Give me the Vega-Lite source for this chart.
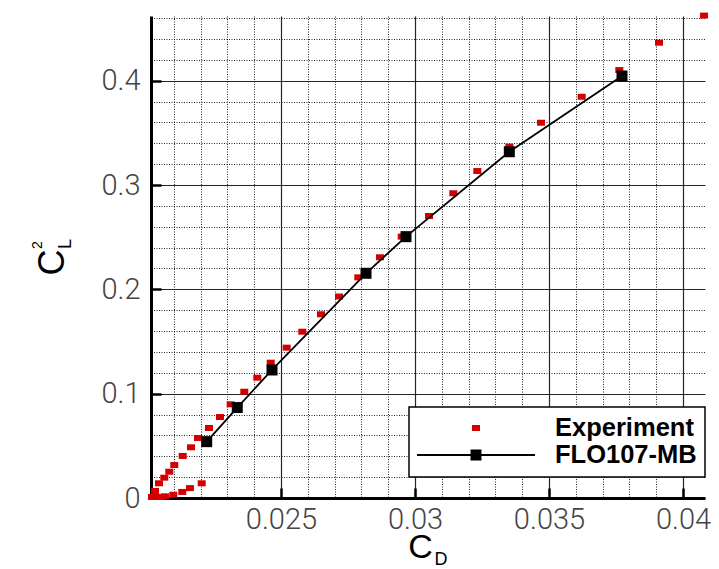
{
  "$schema": "https://vega.github.io/schema/vega-lite/v6.json",
  "width": 554,
  "height": 482,
  "autosize": {"type": "none"},
  "padding": {"left": 151, "top": 16, "right": 14, "bottom": 71},
  "background": "white",
  "config": {
    "view": {"stroke": null},
    "legend": {"strokeWidth": 1.5}
  },
  "datasets": {
    "points": [
      {"series": "Experiment", "cd": 0.020187, "cl2": 0.0010},
      {"series": "Experiment", "cd": 0.020299, "cl2": 0.0067},
      {"series": "Experiment", "cd": 0.020448, "cl2": 0.0141},
      {"series": "Experiment", "cd": 0.020646, "cl2": 0.0195},
      {"series": "Experiment", "cd": 0.020832, "cl2": 0.0252},
      {"series": "Experiment", "cd": 0.021019, "cl2": 0.0316},
      {"series": "Experiment", "cd": 0.021332, "cl2": 0.0403},
      {"series": "Experiment", "cd": 0.021642, "cl2": 0.0486},
      {"series": "Experiment", "cd": 0.021903, "cl2": 0.0575},
      {"series": "Experiment", "cd": 0.022313, "cl2": 0.0671},
      {"series": "Experiment", "cd": 0.022724, "cl2": 0.0776},
      {"series": "Experiment", "cd": 0.023123, "cl2": 0.0898},
      {"series": "Experiment", "cd": 0.023631, "cl2": 0.1019},
      {"series": "Experiment", "cd": 0.024116, "cl2": 0.1153},
      {"series": "Experiment", "cd": 0.024616, "cl2": 0.1297},
      {"series": "Experiment", "cd": 0.025213, "cl2": 0.1441},
      {"series": "Experiment", "cd": 0.025795, "cl2": 0.1594},
      {"series": "Experiment", "cd": 0.026493, "cl2": 0.1761},
      {"series": "Experiment", "cd": 0.027164, "cl2": 0.1931},
      {"series": "Experiment", "cd": 0.027884, "cl2": 0.2115},
      {"series": "Experiment", "cd": 0.028694, "cl2": 0.2307},
      {"series": "Experiment", "cd": 0.029504, "cl2": 0.2505},
      {"series": "Experiment", "cd": 0.030522, "cl2": 0.2703},
      {"series": "Experiment", "cd": 0.031429, "cl2": 0.2921},
      {"series": "Experiment", "cd": 0.032325, "cl2": 0.3134},
      {"series": "Experiment", "cd": 0.033519, "cl2": 0.3367},
      {"series": "Experiment", "cd": 0.034701, "cl2": 0.3597},
      {"series": "Experiment", "cd": 0.036220, "cl2": 0.3846},
      {"series": "Experiment", "cd": 0.037623, "cl2": 0.4102},
      {"series": "Experiment", "cd": 0.039104, "cl2": 0.4364},
      {"series": "Experiment", "cd": 0.040784, "cl2": 0.4624},
      {"series": "Experiment", "cd": 0.020485, "cl2": 0.0010},
      {"series": "Experiment", "cd": 0.020672, "cl2": 0.0016},
      {"series": "Experiment", "cd": 0.020981, "cl2": 0.0031},
      {"series": "Experiment", "cd": 0.021317, "cl2": 0.0058},
      {"series": "Experiment", "cd": 0.021604, "cl2": 0.0095},
      {"series": "Experiment", "cd": 0.022041, "cl2": 0.0141},
      {"series": "FLO107-MB", "cd": 0.022228, "cl2": 0.0540},
      {"series": "FLO107-MB", "cd": 0.023369, "cl2": 0.0867},
      {"series": "FLO107-MB", "cd": 0.024664, "cl2": 0.1227},
      {"series": "FLO107-MB", "cd": 0.028172, "cl2": 0.2154},
      {"series": "FLO107-MB", "cd": 0.029664, "cl2": 0.2505},
      {"series": "FLO107-MB", "cd": 0.033519, "cl2": 0.3319},
      {"series": "FLO107-MB", "cd": 0.037724, "cl2": 0.4045}
    ],
    "titleparts": [
      {"part": "D", "role": "xsub"},
      {"part": "2", "role": "ysup"},
      {"part": "L", "role": "ysub"}
    ]
  },
  "layer": [
    {
      "data": {"name": "points"},
      "encoding": {
        "x": {
          "field": "cd",
          "type": "quantitative",
          "scale": {"domain": [0.02015, 0.04082], "nice": false, "zero": false},
          "axis": {
            "title": "C", "titleFont": "Liberation Sans", "titleFontSize": 34, "titleFontWeight": "normal", "titleColor": "#000",
            "titleAlign": "center", "titleBaseline": "alphabetic", "titleX": 269, "titleY": 59,
            "values": [0.021, 0.022, 0.023, 0.024, 0.025, 0.026, 0.027, 0.028, 0.029, 0.030, 0.031, 0.032, 0.033, 0.034, 0.035, 0.036, 0.037, 0.038, 0.039, 0.040],
            "labelExpr": "abs(datum.value*200 - round(datum.value*200)) < 1e-6 ? format(datum.value, '.3~f') : ''",
            "labelFont": "Roboto", "labelFontWeight": 300, "labelFontSize": 29, "labelColor": "#444", "labelPadding": 17,
            "labelOverlap": false, "labelFlush": false, "labelBound": false,
            "domain": true, "domainColor": "#000", "domainWidth": 3,
            "ticks": true, "tickSize": -10, "tickWidth": 2.5, "tickColor": "#000",
            "tickOpacity": {"condition": {"test": "abs(datum.value*200 - round(datum.value*200)) < 1e-6", "value": 1}, "value": 0},
            "grid": true, "gridColor": "#000",
            "gridWidth": {"condition": {"test": "abs(datum.value*200 - round(datum.value*200)) < 1e-6", "value": 1.2}, "value": 1},
            "gridDash": {"condition": {"test": "abs(datum.value*200 - round(datum.value*200)) < 1e-6", "value": []}, "value": [1, 1.5]},
            "gridOpacity": 0.85
          }
        },
        "y": {
          "field": "cl2",
          "type": "quantitative",
          "scale": {"domain": [0, 0.462], "nice": false, "zero": false},
          "axis": {
            "title": "C", "titleFont": "Liberation Sans", "titleFontSize": 36, "titleFontWeight": "normal", "titleColor": "#000",
            "titleAngle": 270, "titleAlign": "center", "titleBaseline": "alphabetic", "titleX": -88, "titleY": 246,
            "values": [0, 0.02, 0.04, 0.06, 0.08, 0.1, 0.12, 0.14, 0.16, 0.18, 0.2, 0.22, 0.24, 0.26, 0.28, 0.3, 0.32, 0.34, 0.36, 0.38, 0.4, 0.42, 0.44, 0.46],
            "labelExpr": "abs(datum.value*10 - round(datum.value*10)) < 1e-6 ? format(datum.value, '.1~f') : ''",
            "labelFont": "Roboto", "labelFontWeight": 300, "labelFontSize": 29, "labelColor": "#444", "labelPadding": 21,
            "labelOverlap": false, "labelFlush": false, "labelBound": false,
            "domain": true, "domainColor": "#000", "domainWidth": 3,
            "ticks": true, "tickSize": -10, "tickWidth": 2.5, "tickColor": "#000",
            "tickOpacity": {"condition": {"test": "abs(datum.value*10 - round(datum.value*10)) < 1e-6", "value": 1}, "value": 0},
            "grid": true, "gridColor": "#000",
            "gridWidth": {"condition": {"test": "abs(datum.value*10 - round(datum.value*10)) < 1e-6", "value": 1.2}, "value": 1},
            "gridDash": {"condition": {"test": "abs(datum.value*10 - round(datum.value*10)) < 1e-6", "value": []}, "value": [1, 1.5]},
            "gridOpacity": 0.85
          }
        }
      },
      "layer": [
        {
          "transform": [{"filter": "false"}],
          "mark": {"type": "point", "filled": true, "opacity": 1, "strokeWidth": 0},
          "encoding": {
            "color": {
              "field": "series",
              "type": "nominal",
              "scale": {"domain": ["Experiment", "FLO107-MB"], "range": ["#d40000", "#000000"]},
              "legend": {
                "title": null, "orient": "none", "legendX": 258, "legendY": 391, "direction": "vertical",
                "fillColor": "white", "strokeColor": "#000", "padding": 8, "rowPadding": 0, "clipHeight": 26,
                "symbolSize": 13924, "symbolOffset": 0, "symbolStrokeWidth": 0, "symbolOpacity": 1,
                "labelOffset": 20, "labelFont": "Liberation Sans", "labelFontSize": 25.5, "labelFontWeight": "bold",
                "labelColor": "#000", "labelLimit": 400
              }
            },
            "shape": {
              "field": "series",
              "type": "nominal",
              "scale": {
                "domain": ["Experiment", "FLO107-MB"],
                "range": [
                  "M-0.068,-0.051H0.068V0.051H-0.068Z",
                  "M-1,-0.017H1V0.017H-1Z M-0.093,-0.093H0.093V0.093H-0.093Z"
                ]
              }
            }
          }
        },
        {
          "transform": [{"filter": "datum.series === 'Experiment'"}],
          "mark": {"type": "point", "filled": true, "opacity": 1, "color": "#d40000", "shape": "M-1,-0.75H1V0.75H-1Z", "size": 64, "strokeWidth": 0}
        },
        {
          "transform": [{"filter": "datum.series === 'FLO107-MB'"}],
          "mark": {"type": "line", "color": "#000", "strokeWidth": 1.8},
          "encoding": {"order": {"field": "cd", "type": "quantitative"}}
        },
        {
          "transform": [{"filter": "datum.series === 'FLO107-MB'"}],
          "mark": {"type": "point", "filled": true, "opacity": 1, "color": "#000", "shape": "square", "size": 121, "strokeWidth": 0}
        }
      ]
    },
    {
      "data": {"name": "titleparts"},
      "transform": [{"filter": "datum.role !== 'none'"}],
      "encoding": {
        "x": {
          "datum": 0.03,
          "type": "quantitative",
          "scale": {"domain": [0.02015, 0.04082], "nice": false, "zero": false},
          "axis": {
            "title": "C", "titleFont": "Liberation Sans", "titleFontSize": 34, "titleFontWeight": "normal", "titleColor": "#000",
            "titleAlign": "center", "titleBaseline": "alphabetic", "titleX": 269, "titleY": 59,
            "values": [0.021, 0.022, 0.023, 0.024, 0.025, 0.026, 0.027, 0.028, 0.029, 0.030, 0.031, 0.032, 0.033, 0.034, 0.035, 0.036, 0.037, 0.038, 0.039, 0.040],
            "labelExpr": "abs(datum.value*200 - round(datum.value*200)) < 1e-6 ? format(datum.value, '.3~f') : ''",
            "labelFont": "Roboto", "labelFontWeight": 300, "labelFontSize": 29, "labelColor": "#444", "labelPadding": 17,
            "labelOverlap": false, "labelFlush": false, "labelBound": false,
            "domain": true, "domainColor": "#000", "domainWidth": 3,
            "ticks": true, "tickSize": -10, "tickWidth": 2.5, "tickColor": "#000",
            "tickOpacity": {"condition": {"test": "abs(datum.value*200 - round(datum.value*200)) < 1e-6", "value": 1}, "value": 0},
            "grid": true, "gridColor": "#000",
            "gridWidth": {"condition": {"test": "abs(datum.value*200 - round(datum.value*200)) < 1e-6", "value": 1.2}, "value": 1},
            "gridDash": {"condition": {"test": "abs(datum.value*200 - round(datum.value*200)) < 1e-6", "value": []}, "value": [1, 1.5]},
            "gridOpacity": 0.85
          }
        },
        "y": {
          "datum": 0.2,
          "type": "quantitative",
          "scale": {"domain": [0, 0.462], "nice": false, "zero": false},
          "axis": {
            "title": "C", "titleFont": "Liberation Sans", "titleFontSize": 36, "titleFontWeight": "normal", "titleColor": "#000",
            "titleAngle": 270, "titleAlign": "center", "titleBaseline": "alphabetic", "titleX": -88, "titleY": 246,
            "values": [0, 0.02, 0.04, 0.06, 0.08, 0.1, 0.12, 0.14, 0.16, 0.18, 0.2, 0.22, 0.24, 0.26, 0.28, 0.3, 0.32, 0.34, 0.36, 0.38, 0.4, 0.42, 0.44, 0.46],
            "labelExpr": "abs(datum.value*10 - round(datum.value*10)) < 1e-6 ? format(datum.value, '.1~f') : ''",
            "labelFont": "Roboto", "labelFontWeight": 300, "labelFontSize": 29, "labelColor": "#444", "labelPadding": 21,
            "labelOverlap": false, "labelFlush": false, "labelBound": false,
            "domain": true, "domainColor": "#000", "domainWidth": 3,
            "ticks": true, "tickSize": -10, "tickWidth": 2.5, "tickColor": "#000",
            "tickOpacity": {"condition": {"test": "abs(datum.value*10 - round(datum.value*10)) < 1e-6", "value": 1}, "value": 0},
            "grid": true, "gridColor": "#000",
            "gridWidth": {"condition": {"test": "abs(datum.value*10 - round(datum.value*10)) < 1e-6", "value": 1.2}, "value": 1},
            "gridDash": {"condition": {"test": "abs(datum.value*10 - round(datum.value*10)) < 1e-6", "value": []}, "value": [1, 1.5]},
            "gridOpacity": 0.85
          }
        },
        "text": {"field": "part", "type": "nominal"}
      },
      "layer": [
        {
          "transform": [{"filter": "datum.role === 'xsub'"}],
          "mark": {"type": "text", "font": "Liberation Sans", "fontSize": 18, "color": "#000", "align": "center", "baseline": "middle"},
          "encoding": {
            "x": {"datum": 0.030971, "type": "quantitative"},
            "y": {"datum": -0.0594, "type": "quantitative"}
          }
        },
        {
          "transform": [{"filter": "datum.role === 'ysup'"}],
          "mark": {"type": "text", "font": "Liberation Sans", "fontSize": 14, "color": "#000", "align": "center", "baseline": "middle", "angle": 270},
          "encoding": {
            "x": {"datum": 0.015934, "type": "quantitative"},
            "y": {"datum": 0.2425, "type": "quantitative"}
          }
        },
        {
          "transform": [{"filter": "datum.role === 'ysub'"}],
          "mark": {"type": "text", "font": "Liberation Sans", "fontSize": 18, "color": "#000", "align": "center", "baseline": "middle", "angle": 270},
          "encoding": {
            "x": {"datum": 0.016978, "type": "quantitative"},
            "y": {"datum": 0.2435, "type": "quantitative"}
          }
        }
      ]
    }
  ]
}
